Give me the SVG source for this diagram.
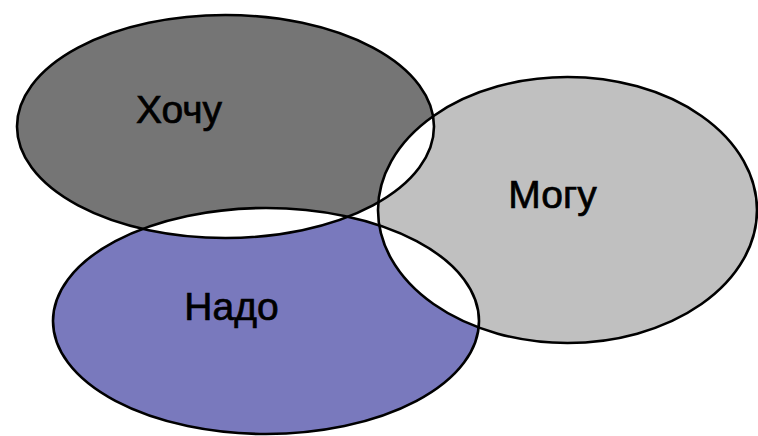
<svg xmlns="http://www.w3.org/2000/svg" width="758" height="436" viewBox="0 0 758 436">
<style>
.outline{fill:none;stroke:#000;stroke-width:2.6}
.lbl{font-family:"Liberation Sans",Arial,sans-serif;font-size:39px;fill:#000;stroke:#000;stroke-width:0.7;text-anchor:middle}
</style>
<defs>
<clipPath id="cK"><ellipse cx="225.5" cy="126.5" rx="208.5" ry="111.5"/></clipPath>
<clipPath id="cM"><ellipse cx="567.5" cy="210" rx="189.5" ry="133"/></clipPath>
</defs>
<rect width="758" height="436" fill="#fff"/>
<g id="fills">
<ellipse cx="225.5" cy="126.5" rx="208.5" ry="111.5" fill="#757575"/>
<ellipse cx="567.5" cy="210" rx="189.5" ry="133" fill="#c0c0c0"/>
<ellipse cx="266" cy="321" rx="213" ry="113" fill="#7979bd"/>
<g fill="#fff">
<ellipse cx="567.5" cy="210" rx="189.5" ry="133" clip-path="url(#cK)"/>
<ellipse cx="266" cy="321" rx="213" ry="113" clip-path="url(#cK)"/>
<ellipse cx="266" cy="321" rx="213" ry="113" clip-path="url(#cM)"/>
</g>
</g>
<g id="node-hochu">
<ellipse class="outline" cx="225.5" cy="126.5" rx="208.5" ry="111.5"/>
<text class="lbl" x="179" y="123">Хочу</text>
</g>
<g id="node-mogu">
<ellipse class="outline" cx="567.5" cy="210" rx="189.5" ry="133"/>
<text class="lbl" x="552.5" y="208">Могу</text>
</g>
<g id="node-nado">
<ellipse class="outline" cx="266" cy="321" rx="213" ry="113"/>
<text class="lbl" x="231.5" y="320">Надо</text>
</g>
<g id="connectors"></g>
</svg>
